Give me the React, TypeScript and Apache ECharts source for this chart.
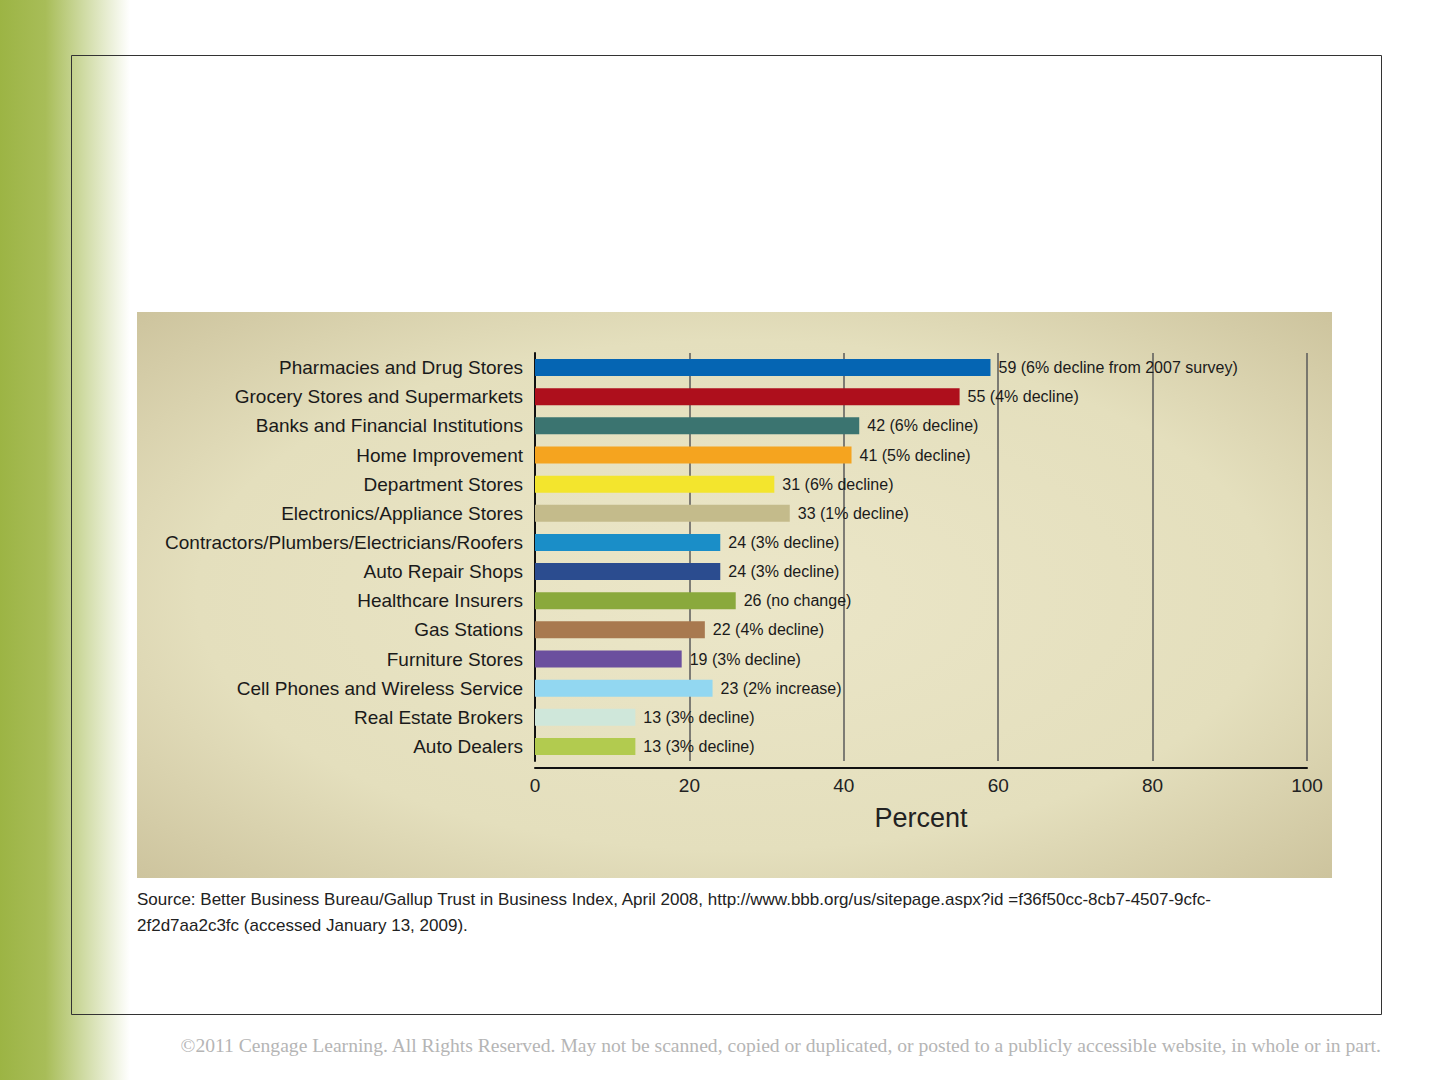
import React, { useEffect, useRef } from 'react';
import * as echarts from 'echarts';

const categories = [
  'Pharmacies and Drug Stores',
  'Grocery Stores and Supermarkets',
  'Banks and Financial Institutions',
  'Home Improvement',
  'Department Stores',
  'Electronics/Appliance Stores',
  'Contractors/Plumbers/Electricians/Roofers',
  'Auto Repair Shops',
  'Healthcare Insurers',
  'Gas Stations',
  'Furniture Stores',
  'Cell Phones and Wireless Service',
  'Real Estate Brokers',
  'Auto Dealers',
];
const values = [59, 55, 42, 41, 31, 33, 24, 24, 26, 22, 19, 23, 13, 13];
const notes = [
  '6% decline from 2007 survey', '4% decline', '6% decline', '5% decline', '6% decline',
  '1% decline', '3% decline', '3% decline', 'no change', '4% decline', '3% decline',
  '2% increase', '3% decline', '3% decline',
];
const colors = [
  '#0565b3', '#ae0f1c', '#3b7470', '#f5a41f', '#f3e52d', '#c4bb8b', '#1a8ec8',
  '#2b4c8f', '#8aa93c', '#a8794f', '#6b4f9e', '#92d7f1', '#cfe7da', '#b2cb4f',
];

const FONT = '"Liberation Sans Narrow", "Arial Narrow", "Liberation Sans", sans-serif';

export default function App() {
  const ref = useRef<HTMLDivElement>(null);
  useEffect(() => {
    if (!ref.current) return;
    const chart = echarts.init(ref.current, undefined, { renderer: 'svg' });
    chart.setOption({
      animation: false,
      backgroundColor: '#ffffff',
      graphic: [
        {
          type: 'rect', left: 0, top: 0, z: -10,
          shape: { width: 130, height: 1080 },
          style: {
            fill: new echarts.graphic.LinearGradient(0, 0, 1, 0, [
              { offset: 0, color: '#9cb444' },
              { offset: 0.35, color: '#a8bd58' },
              { offset: 1, color: '#ffffff' },
            ]),
          },
        },
        {
          type: 'rect', left: 71, top: 55, z: -9,
          shape: { width: 1310, height: 959 },
          style: { fill: 'transparent', stroke: '#333', lineWidth: 1 },
        },
        {
          type: 'rect', left: 137, top: 312, z: -8,
          shape: { width: 1195, height: 566 },
          style: {
            fill: new echarts.graphic.RadialGradient(0.5, 0.5, 0.75, [
              { offset: 0, color: '#ebe6c8' },
              { offset: 0.6, color: '#e4dfbd' },
              { offset: 1, color: '#c9bf98' },
            ]),
          },
        },
        {
          type: 'text', left: 137, top: 886,
          style: {
            text: 'Source: Better Business Bureau/Gallup Trust in Business Index, April 2008, http://www.bbb.org/us/sitepage.aspx?id =f36f50cc-8cb7-4507-9cfc-\n2f2d7aa2c3fc (accessed January 13, 2009).',
            font: `17px ${FONT}`, fill: '#222', lineHeight: 26,
          },
        },
        {
          type: 'text', right: 58, top: 1035,
          style: {
            text: '©2011 Cengage Learning. All Rights Reserved. May not be scanned, copied or duplicated, or posted to a publicly accessible website, in whole or in part.',
            font: '19.6px "Liberation Serif", serif', fill: '#b5b5b5',
          },
        },
      ],
      grid: { left: 535, right: 133, top: 353, bottom: 319 },
      xAxis: {
        type: 'value', min: 0, max: 100, interval: 20, offset: 7,
        name: 'Percent', nameLocation: 'middle', nameGap: 36,
        nameTextStyle: { fontFamily: FONT, fontSize: 27, color: '#222' },
        axisLine: { show: true, lineStyle: { color: '#111', width: 2 } },
        axisTick: { show: false },
        axisLabel: { fontFamily: FONT, fontSize: 19, color: '#222', margin: 8 },
        splitLine: { show: true, lineStyle: { color: '#5a5a5a', width: 1.5 } },
      },
      yAxis: {
        type: 'category', data: categories, inverse: true,
        axisLine: { show: true, lineStyle: { color: '#111', width: 2 } },
        axisTick: { show: false },
        axisLabel: { fontFamily: FONT, fontSize: 19, color: '#1a1a1a', margin: 12 },
      },
      series: [
        {
          type: 'bar', barWidth: 17,
          data: values.map((v, i) => ({ value: v, itemStyle: { color: colors[i] } })),
          label: {
            show: true, position: 'right', distance: 8,
            fontFamily: FONT, fontSize: 16, color: '#1a1a1a',
            formatter: (p: any) => `${p.value} (${notes[p.dataIndex]})`,
          },
        },
      ],
    });
    return () => chart.dispose();
  }, []);
  return (
    <div
      ref={ref}
      style={{ position: 'fixed', left: 0, top: 0, width: 1440, height: 1080 }}
    />
  );
}
